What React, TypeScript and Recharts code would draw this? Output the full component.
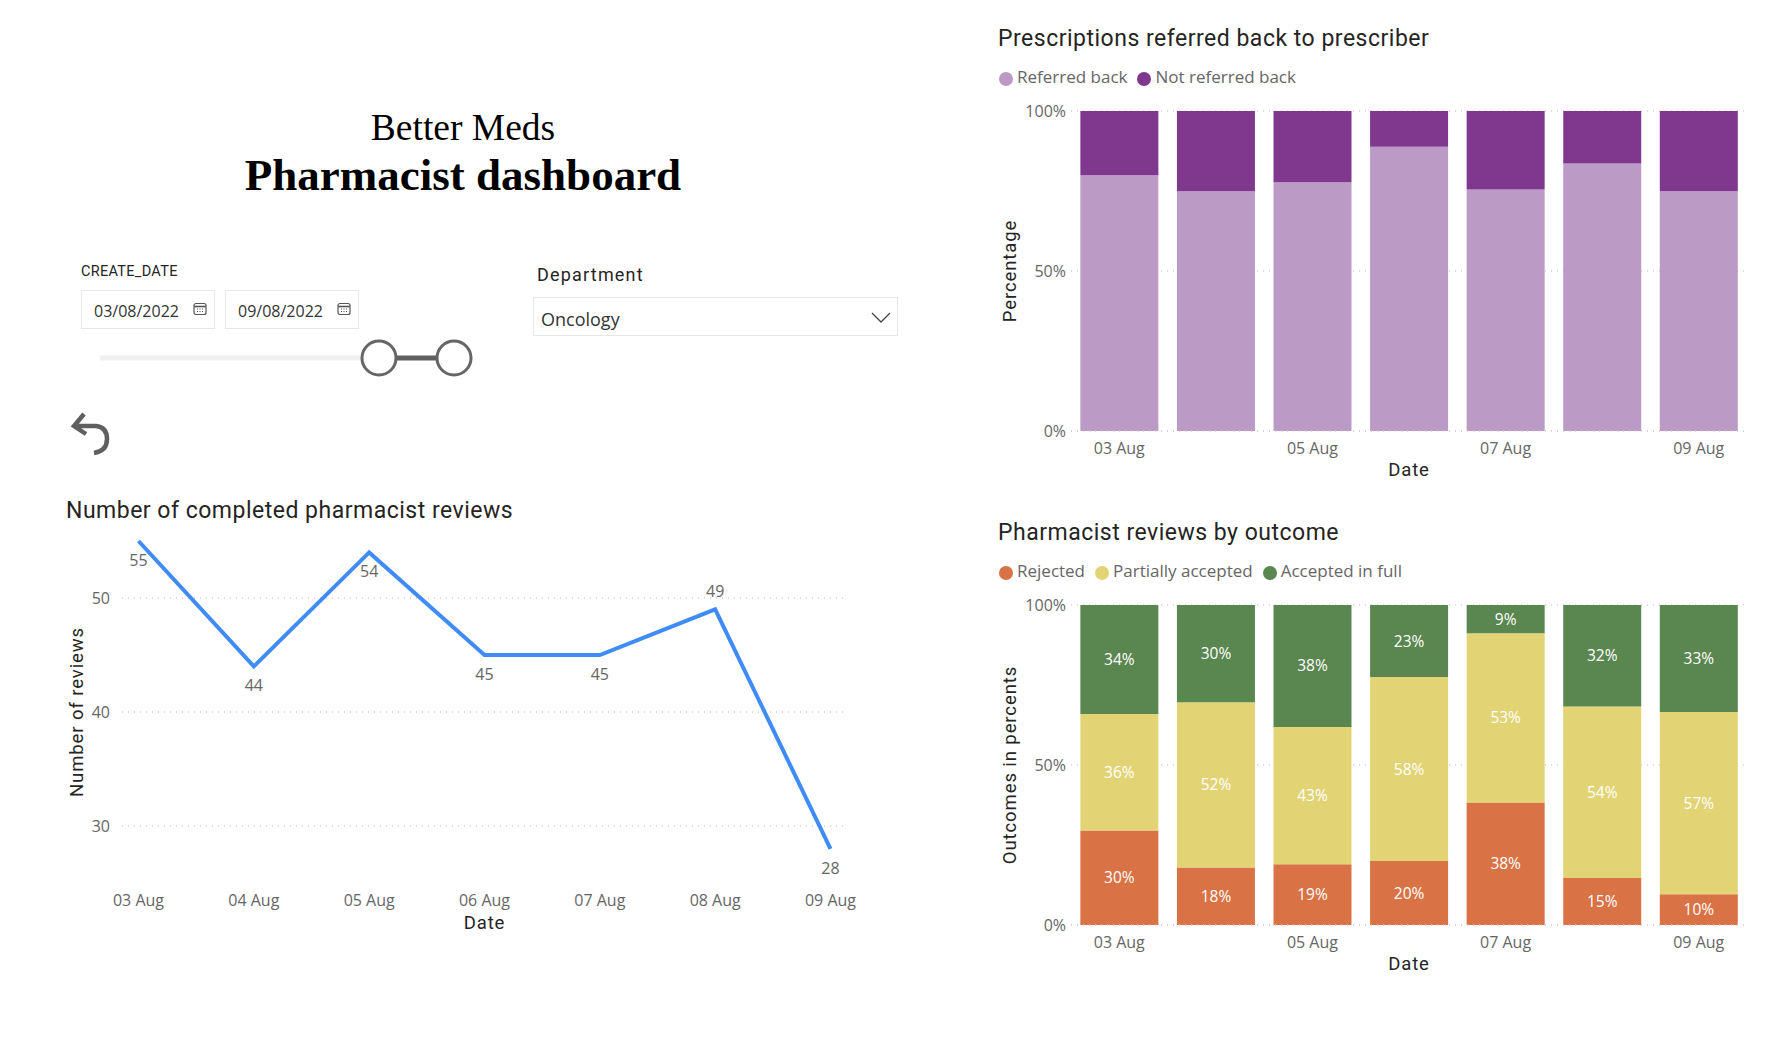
import React from 'react';
import {
  BarChart, Bar, LineChart, Line, XAxis, YAxis, CartesianGrid, Legend, LabelList,
} from 'recharts';

const dates = ['03 Aug', '04 Aug', '05 Aug', '06 Aug', '07 Aug', '08 Aug', '09 Aug'];
const completedReviews = [55, 44, 54, 45, 45, 49, 28];
const referredBack = [79.9, 74.9, 77.7, 88.8, 75.5, 83.6, 74.9];
const notReferredBack = [20.1, 25.1, 22.3, 11.2, 24.5, 16.4, 25.1];
const rejected = [29.5, 18.0, 19.0, 20.0, 38.3, 14.7, 9.6];
const partiallyAccepted = [36.4, 51.6, 42.9, 57.5, 52.9, 53.6, 57.0];
const acceptedInFull = [34.1, 30.4, 38.1, 22.5, 8.8, 31.7, 33.4];
const percentTicks = [0, 50, 100];
const reviewTicks = [30, 40, 50];

const reviewRows = dates.map((date, i) => ({ date, reviews: completedReviews[i] }));
const referralRows = dates.map((date, i) => ({ date, referred: referredBack[i], notReferred: notReferredBack[i] }));
const outcomeRows = dates.map((date, i) => ({
  date, rejected: rejected[i], partial: partiallyAccepted[i], full: acceptedInFull[i],
}));

const DIN = 'Roboto, sans-serif';
const SEGOE = '"Open Sans", sans-serif';
const tickStyle = { fontSize: 16, fill: '#666666', fontFamily: SEGOE };
const gridProps = { vertical: false, syncWithTicks: true, stroke: '#cfcfcf', strokeDasharray: '1 5', strokeWidth: 1.5 };
const axisTitle = { fontSize: 18.5, fill: '#252423', fontFamily: DIN, letterSpacing: 0.9 };

const legendText = (value: string) => (
  <span style={{ color: '#666666', fontSize: 17, fontFamily: SEGOE }}>{value}</span>
);

function Title({ x, y, children }: { x: number; y: number; children: React.ReactNode }) {
  return (
    <div style={{
      position: 'absolute', left: x, top: y, fontFamily: DIN, fontSize: 23, lineHeight: '26px',
      color: '#252423', letterSpacing: 0.5, whiteSpace: 'nowrap',
    }}>{children}</div>
  );
}

function Box({ x, y, w, h, children }: { x: number; y: number; w: number; h: number; children?: React.ReactNode }) {
  return (
    <div style={{
      position: 'absolute', left: x, top: y, width: w, height: h, boxSizing: 'border-box',
      border: '1px solid #e8e8e8', background: '#fff',
    }}>{children}</div>
  );
}

function CalendarIcon({ x, y }: { x: number; y: number }) {
  return (
    <svg style={{ position: 'absolute', left: x, top: y }} width="14" height="14" viewBox="0 0 14 14">
      <rect x="1" y="1.5" width="12" height="11" rx="2" fill="none" stroke="#555" strokeWidth="1.2" />
      <line x1="1" y1="4.5" x2="13" y2="4.5" stroke="#555" strokeWidth="1.6" />
      <path d="M4 7h1M6.5 7h1M9 7h1M4 9.5h1M6.5 9.5h1M9 9.5h1" stroke="#555" strokeWidth="1.2" />
    </svg>
  );
}

function DateBox({ x, text }: { x: number; text: string }) {
  return (
    <Box x={x} y={290} w={134} h={39}>
      <span style={{ position: 'absolute', left: 12, top: 9, fontFamily: SEGOE, fontSize: 16, color: '#333' }}>{text}</span>
      <CalendarIcon x={111} y={11} />
    </Box>
  );
}

function Slicers() {
  return (
    <>
      <div style={{ position: 'absolute', left: 81, top: 263, fontFamily: DIN, fontSize: 14.5, color: '#252423', letterSpacing: 0.3 }}>CREATE_DATE</div>
      <DateBox x={81} text="03/08/2022" />
      <DateBox x={225} text="09/08/2022" />
      <svg style={{ position: 'absolute', left: 90, top: 331 }} width="400" height="54">
        <line x1="10" y1="27" x2="290" y2="27" stroke="#f0f0f0" strokeWidth="5" />
        <line x1="289" y1="27" x2="364" y2="27" stroke="#606060" strokeWidth="5" />
        <circle cx="289" cy="27" r="17" fill="#fff" stroke="#666" strokeWidth="3" />
        <circle cx="364" cy="27" r="17" fill="#fff" stroke="#666" strokeWidth="3" />
      </svg>
      <div style={{ position: 'absolute', left: 537, top: 264, fontFamily: DIN, fontSize: 18, color: '#252423', letterSpacing: 1.2 }}>Department</div>
      <Box x={533} y={297} w={365} h={39}>
        <span style={{ position: 'absolute', left: 7, top: 9, fontFamily: SEGOE, fontSize: 18, color: '#333' }}>Oncology</span>
        <svg style={{ position: 'absolute', left: 337, top: 14 }} width="20" height="12">
          <path d="M1 1 L10 10 L19 1" fill="none" stroke="#444" strokeWidth="1.3" />
        </svg>
      </Box>
      <svg style={{ position: 'absolute', left: 70, top: 410 }} width="44" height="48">
        <path d="M14 4 L4 16 L16 24 M5 16 L26 16 Q37 17 37 29 Q37 41 24 43" fill="none" stroke="#5f5f5f" strokeWidth="4.5" />
      </svg>
    </>
  );
}

function ReviewsLabel(props: any) {
  const { x, y, value, index } = props;
  const above = index === 5;
  return (
    <text x={x} y={above ? y - 12 : y + 25} textAnchor="middle" style={tickStyle}>{value}</text>
  );
}

function ReviewsChart() {
  return (
    <div style={{ position: 'absolute', left: 60, top: 520 }}>
      <LineChart width={810} height={420} data={reviewRows} margin={{ top: 21, right: 27, bottom: 0, left: 0 }}>
        <CartesianGrid {...gridProps} />
        <XAxis
          dataKey="date" height={57} axisLine={false} tickLine={false} tick={tickStyle} tickMargin={6}
          padding={{ left: 16.5, right: 12.5 }} interval={0}
          label={{ value: 'Date', position: 'insideBottom', offset: 11, dx: 2, style: axisTitle }}
        />
        <YAxis
          width={62} domain={[25, 55]} ticks={reviewTicks} axisLine={false} tickLine={false} tick={tickStyle} tickMargin={6}
          label={{ value: 'Number of reviews', angle: -90, position: 'insideLeft', dx: 11, style: { ...axisTitle, textAnchor: 'middle' } }}
        />
        <Line dataKey="reviews" stroke="#3f8cf8" strokeWidth={4} dot={false} isAnimationActive={false}>
          <LabelList dataKey="reviews" content={<ReviewsLabel />} />
        </Line>
      </LineChart>
    </div>
  );
}

function ReferralChart() {
  return (
    <div style={{ position: 'absolute', left: 990, top: 61 }}>
      <BarChart width={770} height={440} data={referralRows} barCategoryGap="9.7%" margin={{ top: 50, right: 13, bottom: 0, left: 0 }}>
        <CartesianGrid {...gridProps} />
        <XAxis
          dataKey="date" height={70} interval={1} tickLine={false} tick={tickStyle} tickMargin={6}
          axisLine={{ stroke: '#cfcfcf', strokeDasharray: '1 5', strokeWidth: 1.5 }}
          label={{ value: 'Date', position: 'insideBottom', offset: 25, style: axisTitle }}
        />
        <YAxis
          width={81} domain={[0, 100]} ticks={percentTicks} tickFormatter={(v) => `${v}%`}
          axisLine={false} tickLine={false} tick={tickStyle} tickSize={5} tickMargin={0}
          label={{ value: 'Percentage', angle: -90, position: 'insideLeft', dx: 14, style: { ...axisTitle, textAnchor: 'middle' } }}
        />
        <Legend
          verticalAlign="middle" align="center" iconType="circle" iconSize={14} itemSorter={null}
          formatter={legendText} wrapperStyle={{ top: 4, left: 9, width: 'auto', whiteSpace: 'nowrap' }}
        />
        <Bar dataKey="referred" name="Referred back" stackId="a" fill="#bc9ac6" isAnimationActive={false} />
        <Bar dataKey="notReferred" name="Not referred back" stackId="a" fill="#7f388e" isAnimationActive={false} />
      </BarChart>
    </div>
  );
}

const percentLabel = (v: any) => `${Math.round(Number(v))}%`;
const barLabelStyle = { fill: '#ffffff', fontSize: 15.5, fontFamily: SEGOE };

function OutcomeChart() {
  return (
    <div style={{ position: 'absolute', left: 990, top: 555 }}>
      <BarChart width={770} height={440} data={outcomeRows} barCategoryGap="9.7%" margin={{ top: 50, right: 13, bottom: 0, left: 0 }}>
        <CartesianGrid {...gridProps} />
        <XAxis
          dataKey="date" height={70} interval={1} tickLine={false} tick={tickStyle} tickMargin={6}
          axisLine={{ stroke: '#cfcfcf', strokeDasharray: '1 5', strokeWidth: 1.5 }}
          label={{ value: 'Date', position: 'insideBottom', offset: 25, style: axisTitle }}
        />
        <YAxis
          width={81} domain={[0, 100]} ticks={percentTicks} tickFormatter={(v) => `${v}%`}
          axisLine={false} tickLine={false} tick={tickStyle} tickSize={5} tickMargin={0}
          label={{ value: 'Outcomes in percents', angle: -90, position: 'insideLeft', dx: 14, style: { ...axisTitle, textAnchor: 'middle' } }}
        />
        <Legend
          verticalAlign="middle" align="center" iconType="circle" iconSize={14} itemSorter={null}
          formatter={legendText} wrapperStyle={{ top: 4, left: 9, width: 'auto', whiteSpace: 'nowrap' }}
        />
        <Bar dataKey="rejected" name="Rejected" stackId="a" fill="#d97346" isAnimationActive={false}>
          <LabelList dataKey="rejected" position="center" formatter={percentLabel} style={barLabelStyle} />
        </Bar>
        <Bar dataKey="partial" name="Partially accepted" stackId="a" fill="#e2d375" isAnimationActive={false}>
          <LabelList dataKey="partial" position="center" formatter={percentLabel} style={barLabelStyle} />
        </Bar>
        <Bar dataKey="full" name="Accepted in full" stackId="a" fill="#5a8650" isAnimationActive={false}>
          <LabelList dataKey="full" position="center" formatter={percentLabel} style={barLabelStyle} />
        </Bar>
      </BarChart>
    </div>
  );
}

export default function App() {
  return (
    <div style={{ position: 'absolute', left: 0, top: 0, width: 1773, height: 1041, background: '#fff', overflow: 'hidden' }}>
      <div style={{ position: 'absolute', left: 163, width: 600, top: 106, textAlign: 'center', fontFamily: '"Liberation Serif", serif', fontSize: 37.5, lineHeight: '44px', color: '#000' }}>Better Meds</div>
      <div style={{ position: 'absolute', left: 163, width: 600, top: 146, textAlign: 'center', fontFamily: '"Liberation Serif", serif', fontWeight: 700, fontSize: 45, lineHeight: '58px', color: '#000' }}>Pharmacist dashboard</div>
      <Slicers />
      <Title x={66} y={498}>Number of completed pharmacist reviews</Title>
      <ReviewsChart />
      <Title x={998} y={26}>Prescriptions referred back to prescriber</Title>
      <ReferralChart />
      <Title x={998} y={520}>Pharmacist reviews by outcome</Title>
      <OutcomeChart />
    </div>
  );
}
